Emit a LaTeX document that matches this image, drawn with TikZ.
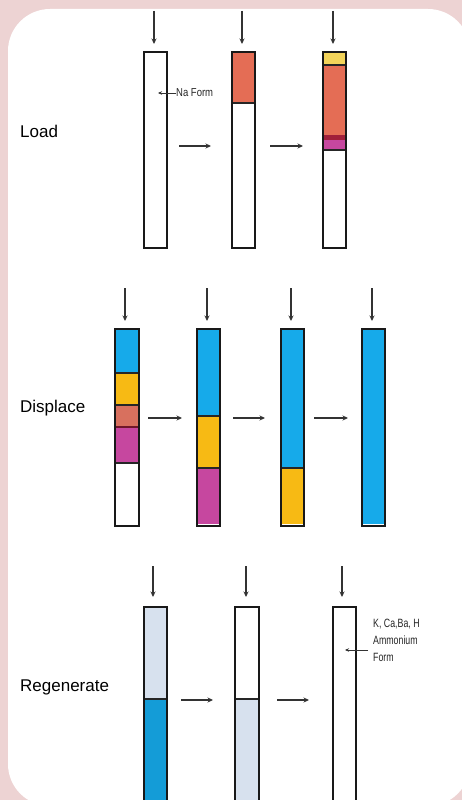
\documentclass[tikz,border=0pt]{standalone}
\usepackage{fontspec}
\setmainfont{Liberation Sans}
\usetikzlibrary{arrows.meta}
\definecolor{bgpink}{HTML}{EDD3D3}
\definecolor{cblue}{HTML}{16AAEA}
\definecolor{cyellow}{HTML}{F7BA14}
\definecolor{lyellow}{HTML}{F3D45A}
\definecolor{cred}{HTML}{E46D55}
\definecolor{csalmon}{HTML}{D8705E}
\definecolor{cdark}{HTML}{A01F3A}
\definecolor{cmag}{HTML}{C6479F}
\definecolor{clight}{HTML}{D7E1EE}
\definecolor{arrgray}{HTML}{333333}
\begin{document}
\begin{tikzpicture}[x=1pt,y=-1pt,
  colbox/.style={draw=black!90, line width=1.8pt, rectangle, inner sep=0pt, anchor=north west},
  divline/.style={draw=black!85, line width=1.6pt},
  flow/.style={draw=arrgray, line width=1.4pt, -{Stealth[length=5.5pt,width=5pt]}},
  rowlabel/.style={anchor=west, inner sep=0pt, font=\fontsize{17}{20}\selectfont, text=black},
  small/.style={inner sep=0pt, font=\fontsize{10}{17}\selectfont, text=black!85, align=left}]
\useasboundingbox (0,0) rectangle (462,800);
\clip (0,0) rectangle (462,800);
\fill[bgpink] (0,0) rectangle (462,800);
\fill[white, rounded corners=42pt] (8,9) rectangle (470,806);

% ---------- Load ----------
\node[rowlabel] (tLoad) at (20,131) {Load};
\fill[cred] (231,51) rectangle (254,103);
\fill[lyellow] (322,51) rectangle (345,65);
\fill[cred] (322,65) rectangle (345,135);
\fill[cdark] (322,135) rectangle (345,140);
\fill[cmag] (322,140) rectangle (345,150);
\draw[divline] (231,103) -- (254,103);
\draw[divline] (322,65) -- (345,65);
\draw[divline] (322,150) -- (345,150);
\node[colbox, minimum width=23pt, minimum height=196pt] (L1) at (143,51) {};
\node[colbox, minimum width=23pt, minimum height=196pt] (L2) at (231,51) {};
\node[colbox, minimum width=23pt, minimum height=196pt] (L3) at (322,51) {};
\coordinate (L1s) at (154,11); \coordinate (L1e) at (154,44);
\coordinate (L2s) at (242,11); \coordinate (L2e) at (242,44);
\coordinate (L3s) at (333,11); \coordinate (L3e) at (333,44);
\draw[flow] (L1s) -- (L1e);
\draw[flow] (L2s) -- (L2e);
\draw[flow] (L3s) -- (L3e);
\coordinate (La1) at (179,146); \coordinate (La2) at (211,146);
\coordinate (Lb1) at (270,146); \coordinate (Lb2) at (303,146);
\draw[flow] (La1) -- (La2);
\draw[flow] (Lb1) -- (Lb2);
\node[small, anchor=west] (naform) at (176,93) {\scalebox{0.95}[1.15]{Na Form}};
\coordinate (naend) at (158,93);
\draw[flow, line width=0.9pt, -{Stealth[length=4pt,width=3.5pt]}] (naform.west) -- (naend);

% ---------- Displace ----------
\node[rowlabel] (tDisp) at (20,408) {Displace};
\fill[cblue] (114,328) rectangle (138,373);
\fill[cyellow] (114,373) rectangle (138,405);
\fill[csalmon] (114,405) rectangle (138,427);
\fill[cmag] (114,427) rectangle (138,463);
\draw[divline] (114,373) -- (138,373);
\draw[divline] (114,405) -- (138,405);
\draw[divline, draw=cdark!70!black] (114,427) -- (138,427);
\draw[divline] (114,463) -- (138,463);
\fill[cblue] (196,328) rectangle (219,416);
\fill[cyellow] (196,416) rectangle (219,468);
\fill[cmag] (196,468) rectangle (219,524);
\draw[divline] (196,416) -- (219,416);
\draw[divline] (196,468) -- (219,468);
\fill[cblue] (280,328) rectangle (303,468);
\fill[cyellow] (280,468) rectangle (303,524);
\draw[divline] (280,468) -- (303,468);
\fill[cblue] (361,328) rectangle (384,524);
\node[colbox, minimum width=24pt, minimum height=197pt] (D1) at (114,328) {};
\node[colbox, minimum width=23pt, minimum height=197pt] (D2) at (196,328) {};
\node[colbox, minimum width=23pt, minimum height=197pt] (D3) at (280,328) {};
\node[colbox, minimum width=23pt, minimum height=197pt] (D4) at (361,328) {};
\coordinate (D1s) at (125,288); \coordinate (D1e) at (125,321);
\coordinate (D2s) at (207,288); \coordinate (D2e) at (207,321);
\coordinate (D3s) at (291,288); \coordinate (D3e) at (291,321);
\coordinate (D4s) at (372,288); \coordinate (D4e) at (372,321);
\draw[flow] (D1s) -- (D1e);
\draw[flow] (D2s) -- (D2e);
\draw[flow] (D3s) -- (D3e);
\draw[flow] (D4s) -- (D4e);
\coordinate (Da1) at (148,418); \coordinate (Da2) at (182,418);
\coordinate (Db1) at (233,418); \coordinate (Db2) at (265,418);
\coordinate (Dc1) at (314,418); \coordinate (Dc2) at (348,418);
\draw[flow] (Da1) -- (Da2);
\draw[flow] (Db1) -- (Db2);
\draw[flow] (Dc1) -- (Dc2);

% ---------- Regenerate ----------
\node[rowlabel] (tRegen) at (20,687) {Regenerate};
\fill[clight] (143,606) rectangle (166,699);
\fill[cblue!92!black] (143,699) rectangle (166,830);
\draw[divline] (143,699) -- (166,699);
\fill[clight] (234,699) rectangle (258,830);
\draw[divline] (234,699) -- (258,699);
\node[colbox, minimum width=23pt, minimum height=230pt] (R1) at (143,606) {};
\node[colbox, minimum width=24pt, minimum height=230pt] (R2) at (234,606) {};
\node[colbox, minimum width=23pt, minimum height=230pt] (R3) at (332,606) {};
\coordinate (R1s) at (153,566); \coordinate (R1e) at (153,597);
\coordinate (R2s) at (246,566); \coordinate (R2e) at (246,597);
\coordinate (R3s) at (342,566); \coordinate (R3e) at (342,597);
\draw[flow] (R1s) -- (R1e);
\draw[flow] (R2s) -- (R2e);
\draw[flow] (R3s) -- (R3e);
\coordinate (Ra1) at (181,700); \coordinate (Ra2) at (213,700);
\coordinate (Rb1) at (277,700); \coordinate (Rb2) at (309,700);
\draw[flow] (Ra1) -- (Ra2);
\draw[flow] (Rb1) -- (Rb2);
\node[small, anchor=north west] (kform) at (373,619) {\scalebox{0.88}[1.2]{K, Ca,Ba, H}\\\scalebox{0.88}[1.2]{Ammonium}\\\scalebox{0.88}[1.2]{Form}};
\coordinate (kstart) at (368,650);
\coordinate (kend) at (345,650);
\draw[flow, line width=0.9pt, -{Stealth[length=4pt,width=3.5pt]}] (kstart) -- (kend);
\end{tikzpicture}
\end{document}
